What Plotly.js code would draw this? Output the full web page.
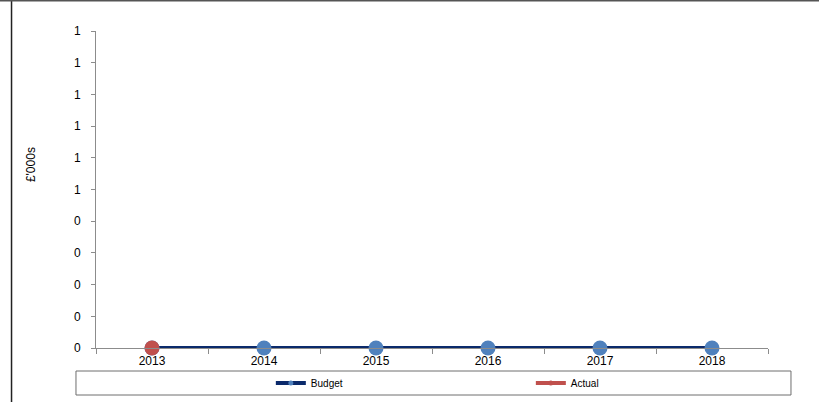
<!DOCTYPE html>
<html>
<head>
<meta charset="utf-8">
<script src="https://cdn.plot.ly/plotly-3.0.1.min.js"></script>
<style>
  html, body { margin: 0; padding: 0; background: #fff; }
  #chart { width: 819px; height: 402px; }
</style>
</head>
<body>
<div id="chart"></div>
<script>
// Years on the category axis
const years = ['2013', '2014', '2015', '2016', '2017', '2018'];
// Series values (£'000s)
const budget = [0, 0, 0, 0, 0, 0];
const actual = [0, null, null, null, null, null];
// Y ticks: values and the whole-number labels they print as
const yTickVals = [0, 0.1, 0.2, 0.3, 0.4, 0.5, 0.6, 0.7, 0.8, 0.9, 1.0];
const yTickText = ['0', '0', '0', '0', '0', '1', '1', '1', '1', '1', '1'];
const yTitle = "£'000s";

const navy = '#0B2A6B';
const blue = '#4F81BD';
const red = '#C0504D';
const font = 'Liberation Sans, Arial, sans-serif';

const traces = [
  {
    x: years, y: budget, name: 'Budget', type: 'scatter', mode: 'lines+markers',
    line: { color: navy, width: 4 },
    marker: { color: blue, size: 15 },
    showlegend: false, cliponaxis: false
  },
  {
    x: years, y: actual, name: 'Actual', type: 'scatter', mode: 'lines+markers',
    line: { color: red, width: 4 },
    marker: { color: red, size: 15 },
    showlegend: false, cliponaxis: false
  },
  // legend keys (small markers, no points of their own)
  {
    x: [years[0]], y: [null], name: 'Budget', type: 'scatter', mode: 'lines+markers',
    line: { color: navy, width: 4 }, marker: { color: blue, size: 5 }
  },
  {
    x: [years[0]], y: [null], name: 'Actual', type: 'scatter', mode: 'lines+markers',
    line: { color: red, width: 4 }, marker: { color: red, size: 5 }
  }
];

const layout = {
  width: 819, height: 402,
  margin: { l: 96, r: 51, t: 31, b: 54 },
  paper_bgcolor: '#fff', plot_bgcolor: '#fff',
  font: { family: font, size: 12, color: '#000' },
  showlegend: true,
  legend: {
    orientation: 'h', xref: 'container', x: 0.3307, xanchor: 'left',
    yref: 'container', y: 0.0473, yanchor: 'middle',
    bgcolor: 'rgba(0,0,0,0)', borderwidth: 0,
    entrywidth: 215, entrywidthmode: 'pixels',
    font: { family: font, size: 10, color: '#000' }
  },
  xaxis: {
    type: 'category', range: [-0.5, 5.5], fixedrange: true,
    showline: true, linecolor: '#8c8c8c', linewidth: 1,
    ticks: 'outside', tickson: 'boundaries', ticklen: 5, tickcolor: '#8c8c8c',
    ticklabelstandoff: 2,
    showgrid: false, zeroline: false,
    tickfont: { family: font, size: 12, color: '#000' }
  },
  yaxis: {
    range: [0, 1], fixedrange: true,
    tickmode: 'array', tickvals: yTickVals, ticktext: yTickText,
    showline: true, linecolor: '#8c8c8c', linewidth: 1,
    ticks: 'outside', ticklen: 4, tickcolor: '#8c8c8c', ticklabelstandoff: 8,
    showgrid: false, zeroline: false,
    tickfont: { family: font, size: 12, color: '#000' }
  },
  annotations: [
    // y-axis title, set in the margin beside the tick labels
    { text: yTitle, textangle: -90, xref: 'paper', yref: 'paper', x: -0.0967, y: 0.577,
      xanchor: 'center', yanchor: 'middle', showarrow: false,
      font: { family: font, size: 12, color: '#000' } }
  ],
  shapes: [
    // legend frame
    { type: 'rect', xref: 'paper', yref: 'paper', x0: -0.0298, x1: 1.0342, y0: -0.1483, y1: -0.0726,
      line: { color: '#6e6e6e', width: 1 }, fillcolor: 'rgba(0,0,0,0)', layer: 'below' },
    // outer frame: left edge and top edge
    { type: 'line', xref: 'paper', yref: 'paper', x0: -0.1257, x1: -0.1257, y0: -0.2, y1: 1.2,
      line: { color: '#222', width: 1.5 } },
    { type: 'line', xref: 'paper', yref: 'paper', x0: -0.2, x1: 1.2, y0: 1.0962, y1: 1.0962,
      line: { color: '#555', width: 2 } }
  ]
};

Plotly.newPlot('chart', traces, layout, { displayModeBar: false, staticPlot: true });
</script>
</body>
</html>
